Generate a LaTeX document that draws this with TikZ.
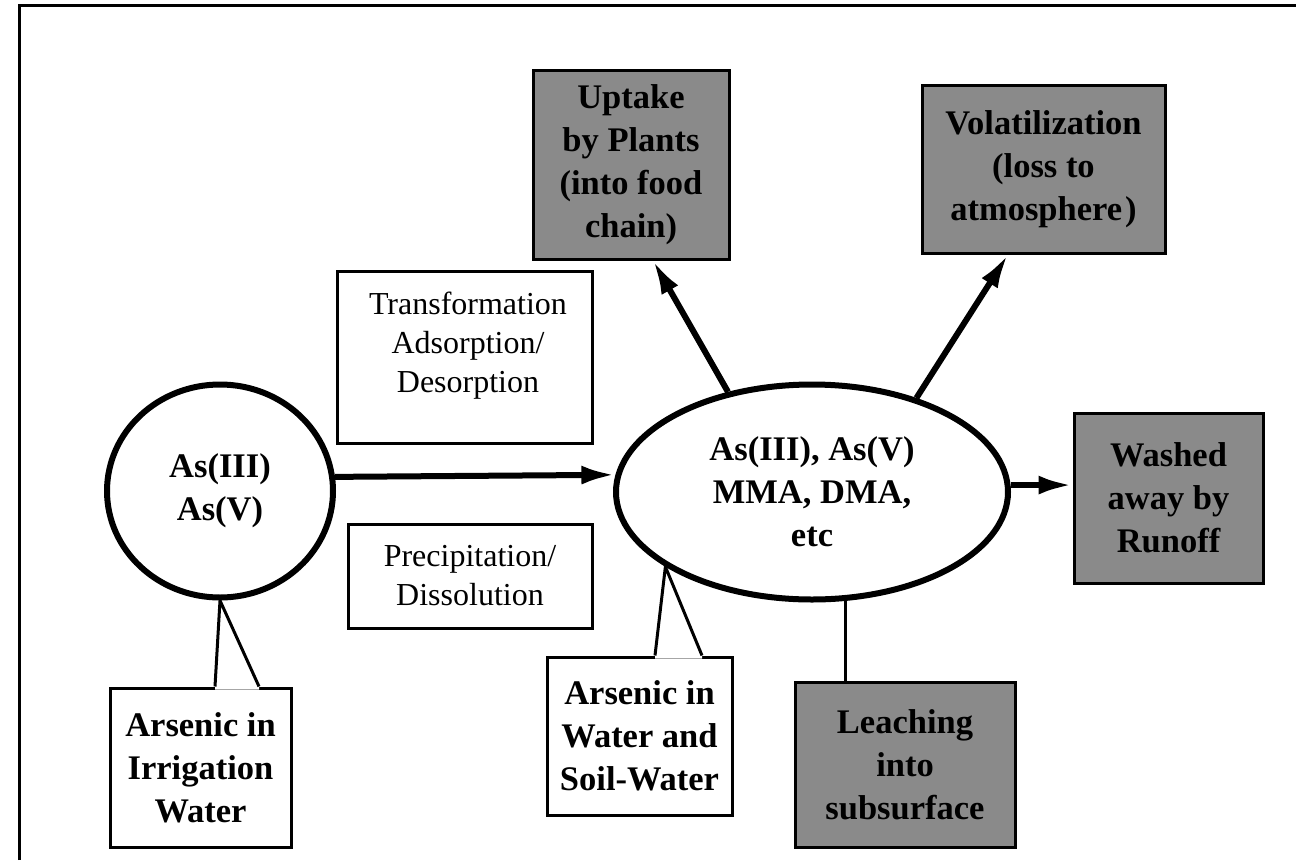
\documentclass[tikz,border=0pt]{standalone}
\usepackage{fontspec}
\setmainfont{Liberation Serif}
\usetikzlibrary{shapes.geometric,arrows.meta,calc}
\definecolor{boxgray}{RGB}{138,138,138}
\tikzset{
  boldtext/.style={font=\fontsize{34.5}{43}\selectfont\bfseries},
  plaintext/.style={font=\fontsize{32}{39}\selectfont},
  graybox/.style={draw=black, fill=boxgray, line width=3pt, align=center, inner sep=0pt, boldtext},
  whitebox/.style={draw=black, fill=white, line width=3pt, align=center, inner sep=0pt},
  oval/.style={ellipse, draw=black, line width=6pt, align=center, inner sep=0pt, boldtext},
  flow/.style={line width=6pt, -{Latex[length=34pt,width=19pt]}},
  callleg/.style={line width=3pt},
}
\begin{document}
\begin{tikzpicture}[x=1pt,y=-1pt]
\useasboundingbox (0,0) rectangle (1296,860);
% frame
\draw[line width=3pt] (19,860) -- (19,5) -- (1296,5);

% ovals
\node[oval, minimum width=226pt, minimum height=213pt] (c1) at (220,491) {As(III)\\As(V)};
\node[oval, minimum width=392pt, minimum height=215pt] (c2) at (812,492) {As(III), As(V)\\MMA, DMA,\\etc};

% gray boxes
\node[graybox, minimum width=196pt, minimum height=189pt] (uptake) at (631,164.5) {Uptake\\by Plants\\(into food\\chain)};
\node[graybox, minimum width=243pt, minimum height=168pt] (vol) at (1043.5,169) {Volatilization\\(loss to\\atmosphere\hspace{3pt})};
\node[graybox, minimum width=189pt, minimum height=170pt] (washed) at (1168.5,498) {Washed\\away by\\Runoff};
\node[graybox, minimum width=220pt, minimum height=165pt] (leach) at (905,764.5) {Leaching\\into\\subsurface};

% white process boxes
\node[whitebox, minimum width=255pt, minimum height=172pt] (trbox) at (464.5,357) {};
\node[plaintext, align=center] (trtext) at (468,346) {Transformation\\Adsorption/\\Desorption};
\node[whitebox, plaintext, minimum width=244pt, minimum height=104pt] (precip) at (470,576) {Precipitation/\\Dissolution};

% callout boxes
\node[whitebox, boldtext, minimum width=181pt, minimum height=159pt] (irr) at (200.5,767.5) {Arsenic in\\Irrigation\\Water};
\node[whitebox, boldtext, minimum width=185pt, minimum height=158pt] (soil) at (639.5,736) {Arsenic in\\Water and\\Soil-Water};

% callout pointers
\coordinate (irrL) at ([xshift=14.5pt]irr.north);
\coordinate (irrR) at ([xshift=58.5pt]irr.north);
\fill[white] (irrL) -- (c1.south) -- (irrR) -- ([yshift=-3pt]irrR) -- ([yshift=-3pt]irrL) -- cycle;
\draw[callleg, line join=miter] (irrL) -- (c1.south) -- (irrR);

\coordinate (soilL) at ([xshift=15.5pt]soil.north);
\coordinate (soilR) at ([xshift=62.5pt]soil.north);
\fill[white] (soilL) -- (c2.207) -- (soilR) -- ([yshift=-3pt]soilR) -- ([yshift=-3pt]soilL) -- cycle;
\draw[callleg, line join=miter] (soilL) -- (c2.207) -- (soilR);

% arrows
\draw[flow] (c1.7) -- (c2.175.6);
\draw[flow] (c2.130) -- ([xshift=22pt]uptake.south);
\draw[flow] (c2.42) -- ([xshift=-35.5pt]vol.south);
\draw[flow] (c2.2) -- (c2.2 -| washed.west);
\draw[line width=3pt] (c2.287) -- (c2.287 |- leach.north);
\end{tikzpicture}
\end{document}
